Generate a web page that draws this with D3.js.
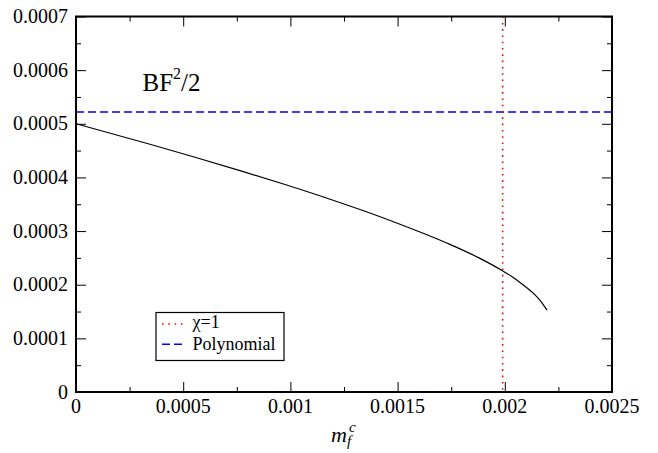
<!DOCTYPE html>
<html>
<head>
<meta charset="utf-8">
<script src="https://cdn.jsdelivr.net/npm/d3@7"></script>
<style>
  body { margin: 0; background: #fff; }
</style>
</head>
<body>
<div id="chart"></div>
<script>
// curve BF^2/2 against m_f^c
let mcX = [0, 0.000345, 0.000555, 0.000765, 0.000975, 0.001185, 0.001348, 0.001511, 0.001628, 0.001744, 0.001884, 0.001987, 0.002034, 0.002071, 0.002141, 0.002169, 0.002197]
let bfY = [0.0005, 0.0004618, 0.0004377, 0.0004127, 0.0003868, 0.0003594, 0.0003369, 0.0003128, 0.0002945, 0.0002752, 0.0002491, 0.0002265, 0.0002148, 0.0002043, 0.000181, 0.0001687, 0.0001525]

// reference lines
let chiOneX = 0.00199
let polyY = 0.000522

let xTicks = [0, 0.0005, 0.001, 0.0015, 0.002, 0.0025]
let xTickLabels = ["0", "0.0005", "0.001", "0.0015", "0.002", "0.0025"]
let yTicks = [0, 0.0001, 0.0002, 0.0003, 0.0004, 0.0005, 0.0006, 0.0007]
let yTickLabels = ["0", "0.0001", "0.0002", "0.0003", "0.0004", "0.0005", "0.0006", "0.0007"]
let xMinor = d3.range(0.00025, 0.0025, 0.0005)
let yMinor = d3.range(0.00005, 0.0007, 0.0001)

let legendLabels = ["χ=1", "Polynomial"]

let width = 658, height = 453
let margin = {top: 16.5, right: 46, bottom: 61, left: 76}
let plot_w = width - margin.left - margin.right
let plot_h = height - margin.top - margin.bottom
let serif = '"Liberation Serif", "Times New Roman", serif'

let svg = d3.select("#chart")
    .append("svg")
    .attr("width", width)
    .attr("height", height)
    .style("font-family", serif)

let g = svg.append("g")
    .attr("transform", `translate(${margin.left}, ${margin.top})`)

let x = d3.scaleLinear().domain([0, 0.0025]).range([0, plot_w])
let y = d3.scaleLinear().domain([0, 0.0007]).range([plot_h, 0])

// inward ticks on all four sides
function tickAxis(axisFn, scale, ticks, size, transform) {
    g.append("g")
        .attr("transform", transform)
        .call(axisFn(scale).tickValues(ticks).tickSize(size).tickFormat(""))
        .call(a => a.select(".domain").remove())
        .selectAll("line").attr("stroke", "#000").attr("stroke-width", 1)
}
tickAxis(d3.axisTop, x, xTicks, 10, `translate(0, ${plot_h})`)
tickAxis(d3.axisTop, x, xMinor, 5, `translate(0, ${plot_h})`)
tickAxis(d3.axisBottom, x, xTicks, 10, `translate(0, 0)`)
tickAxis(d3.axisBottom, x, xMinor, 5, `translate(0, 0)`)
tickAxis(d3.axisRight, y, yTicks, 10, `translate(0, 0)`)
tickAxis(d3.axisRight, y, yMinor, 5, `translate(0, 0)`)
tickAxis(d3.axisLeft, y, yTicks, 10, `translate(${plot_w}, 0)`)
tickAxis(d3.axisLeft, y, yMinor, 5, `translate(${plot_w}, 0)`)

// tick labels
g.selectAll(".xlab")
    .data(xTicks)
    .enter()
    .append("text")
    .attr("x", d => x(d))
    .attr("y", plot_h + 21)
    .attr("text-anchor", "middle")
    .style("font-size", "20px")
    .text((d, i) => xTickLabels[i])

g.selectAll(".ylab")
    .data(yTicks)
    .enter()
    .append("text")
    .attr("x", -8)
    .attr("y", d => y(d))
    .attr("dy", "0.33em")
    .attr("text-anchor", "end")
    .style("font-size", "20px")
    .text((d, i) => yTickLabels[i])

// data curve
let line = d3.line()
    .x((d, i) => x(mcX[i]))
    .y(d => y(d))
    .curve(d3.curveMonotoneX)

g.append("path")
    .datum(bfY)
    .attr("d", line)
    .attr("fill", "none")
    .attr("stroke", "#000")
    .attr("stroke-width", 1.2)

g.append("line")
    .attr("x1", 0).attr("x2", plot_w)
    .attr("y1", y(polyY)).attr("y2", y(polyY))
    .attr("stroke", "#0000ff")
    .attr("stroke-width", 1.6)
    .attr("stroke-dasharray", "8,4")

g.append("line")
    .attr("x1", x(chiOneX)).attr("x2", x(chiOneX))
    .attr("y1", 0).attr("y2", plot_h)
    .attr("stroke", "#ff0000")
    .attr("stroke-width", 1.6)
    .attr("stroke-dasharray", "1.6,4.7")

// frame
g.append("rect")
    .attr("width", plot_w)
    .attr("height", plot_h)
    .attr("fill", "none")
    .attr("stroke", "#000")
    .attr("stroke-width", 2)

// BF^2/2 annotation
let note = g.append("text")
    .attr("x", 142.5 - margin.left)
    .attr("y", 90.5 - margin.top)
    .style("font-size", "25px")
note.append("tspan").text("BF")
note.append("tspan").attr("dy", -12).style("font-size", "16px").text("2")
note.append("tspan").attr("dy", 12).text("/2")

// axis title m_f^c
svg.append("text")
    .attr("x", 331)
    .attr("y", 441.5)
    .style("font-size", "22px")
    .style("font-style", "italic")
    .text("m")
svg.append("text")
    .attr("x", 349).attr("y", 432)
    .style("font-size", "15px").style("font-style", "italic")
    .text("c")
svg.append("text")
    .attr("x", 347).attr("y", 446)
    .style("font-size", "15px").style("font-style", "italic")
    .text("f")

// legend
let legend = svg.append("g")
    .attr("transform", `translate(156, 312.5)`)

legend.append("rect")
    .attr("width", 128)
    .attr("height", 48)
    .attr("fill", "#fff")
    .attr("stroke", "#000")
    .attr("stroke-width", 1.2)

let legendStyles = [
    {color: "#ff0000", dash: "1.6,4.7"},
    {color: "#0000ff", dash: "8,4"}
]
legend.selectAll(".lline")
    .data(legendStyles)
    .enter()
    .append("line")
    .attr("x1", 6).attr("x2", 28)
    .attr("y1", (d, i) => 11.5 + i * 20.3)
    .attr("y2", (d, i) => 11.5 + i * 20.3)
    .attr("stroke", d => d.color)
    .attr("stroke-width", 1.6)
    .attr("stroke-dasharray", d => d.dash)

legend.selectAll(".ltext")
    .data(legendLabels)
    .enter()
    .append("text")
    .attr("x", 36.5)
    .attr("y", (d, i) => 15 + i * 22)
    .style("font-size", "18px")
    .text(d => d)
</script>
</body>
</html>
